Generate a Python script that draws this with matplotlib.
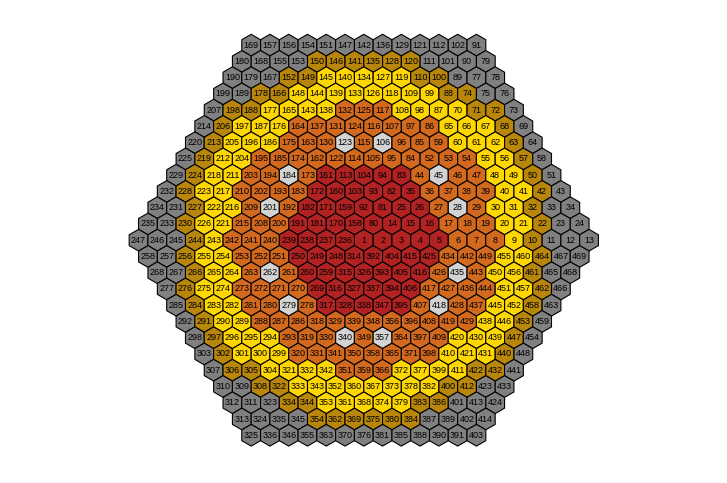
import matplotlib
matplotlib.use('Agg')
import matplotlib.pyplot as plt
from matplotlib.patches import RegularPolygon
import numpy as np

# cell numbers, row by row from the top of the hexagon
ROW_IDS = [
    [169, 157, 156, 154, 151, 147, 142, 136, 129, 121, 112, 102, 91],
    [180, 168, 155, 153, 150, 146, 141, 135, 128, 120, 111, 101, 90, 79],
    [190, 179, 167, 152, 149, 145, 140, 134, 127, 119, 110, 100, 89, 77, 78],
    [199, 189, 178, 166, 148, 144, 139, 133, 126, 118, 109, 99, 88, 74, 75, 76],
    [207, 198, 188, 177, 165, 143, 138, 132, 125, 117, 108, 98, 87, 70, 71, 72, 73],
    [214, 206, 197, 187, 176, 164, 137, 131, 124, 116, 107, 97, 86, 65, 66, 67, 68, 69],
    [220, 213, 205, 196, 186, 175, 163, 130, 123, 115, 106, 96, 85, 59, 60, 61, 62, 63, 64],
    [225, 219, 212, 204, 195, 185, 174, 162, 122, 114, 105, 95, 84, 52, 53, 54, 55, 56, 57, 58],
    [229, 224, 218, 211, 203, 194, 184, 173, 161, 113, 104, 94, 83, 44, 45, 46, 47, 48, 49, 50, 51],
    [232, 228, 223, 217, 210, 202, 193, 183, 172, 160, 103, 93, 82, 35, 36, 37, 38, 39, 40, 41, 42, 43],
    [234, 231, 227, 222, 216, 209, 201, 192, 182, 171, 159, 92, 81, 25, 26, 27, 28, 29, 30, 31, 32, 33, 34],
    [235, 233, 230, 226, 221, 215, 208, 200, 191, 181, 170, 158, 80, 14, 15, 16, 17, 18, 19, 20, 21, 22, 23, 24],
    [247, 246, 245, 244, 243, 242, 241, 240, 239, 238, 237, 236, 1, 2, 3, 4, 5, 6, 7, 8, 9, 10, 11, 12, 13],
    [258, 257, 256, 255, 254, 253, 252, 251, 250, 249, 248, 314, 392, 404, 415, 425, 434, 442, 449, 455, 460, 464, 467, 469],
    [268, 267, 266, 265, 264, 263, 262, 261, 260, 259, 315, 326, 393, 405, 416, 426, 435, 443, 450, 456, 461, 465, 468],
    [277, 276, 275, 274, 273, 272, 271, 270, 269, 316, 327, 337, 394, 406, 417, 427, 436, 444, 451, 457, 462, 466],
    [285, 284, 283, 282, 281, 280, 279, 278, 317, 328, 338, 347, 395, 407, 418, 428, 437, 445, 452, 458, 463],
    [292, 291, 290, 289, 288, 287, 286, 318, 329, 339, 348, 356, 396, 408, 419, 429, 438, 446, 453, 459],
    [298, 297, 296, 295, 294, 293, 319, 330, 340, 349, 357, 364, 397, 409, 420, 430, 439, 447, 454],
    [303, 302, 301, 300, 299, 320, 331, 341, 350, 358, 365, 371, 398, 410, 421, 431, 440, 448],
    [307, 306, 305, 304, 321, 332, 342, 351, 359, 366, 372, 377, 399, 411, 422, 432, 441],
    [310, 309, 308, 322, 333, 343, 352, 360, 367, 373, 378, 382, 400, 412, 423, 433],
    [312, 311, 323, 334, 344, 353, 361, 368, 374, 379, 383, 386, 401, 413, 424],
    [313, 324, 335, 345, 354, 362, 369, 375, 380, 384, 387, 389, 402, 414],
    [325, 336, 346, 355, 363, 370, 376, 381, 385, 388, 390, 391, 403],
]

# colour class of each cell, same order
ROW_CLASSES = [
    "GGGGGGGGGGGGG",
    "GGGGDDDDDDGGGG",
    "GGGDDYYYYYDDGGG",
    "GGDDYYYYYYYYDDGG",
    "GDDYYYYOOOYYYYDDG",
    "GDYYYOOOOOOOOYYYDG",
    "GDYYYOOOLOLOOOYYYDG",
    "GDYYOOOOOOOOOOOOYYDG",
    "GDYYOOLORRRRROLOOYYDG",
    "GDYYOOOORRRRRROOOOYYDG",
    "GGDYYOLORRRRRRROLOYYDGG",
    "GGDYYOOORRRRRRRROOOYYDGG",
    "GGGDYOOORRRRRRRRROOOYDGGG",
    "GGDYYOOORRRRRRRROOOYYDGG",
    "GGDYYOLORRRRRRROLOYYDGG",
    "GDYYOOOORRRRRROOOOYYDG",
    "GDYYOOLORRRRROLOOYYDG",
    "GDYYOOOOOOOOOOOOYYDG",
    "GDYYYOOOLOLOOOYYYDG",
    "GDYYYOOOOOOOOYYYDG",
    "GDDYYYYOOOYYYYDDG",
    "GGDDYYYYYYYYDDGG",
    "GGGDDYYYYYDDGGG",
    "GGGGDDDDDDGGGG",
    "GGGGGGGGGGGGG",
]

COLORS = {
    'G': '#808080',   # gray
    'D': '#B8860B',   # darkgoldenrod
    'Y': '#FFD700',   # gold
    'O': '#D2691E',   # chocolate
    'R': '#B22222',   # firebrick
    'L': '#D3D3D3',   # lightgray
}

fig = plt.figure(figsize=(7.27, 4.83), dpi=100)
ax = fig.add_axes([0, 0, 1, 1])

nrows = len(ROW_IDS)
mid = nrows // 2
dy = np.sqrt(3) / 2
for r, (ids, cls) in enumerate(zip(ROW_IDS, ROW_CLASSES)):
    n = len(ids)
    y = (mid - r) * dy
    for i, (num, c) in enumerate(zip(ids, cls)):
        x = i - (n - 1) / 2
        ax.add_patch(RegularPolygon((x, y), numVertices=6, radius=1 / np.sqrt(3),
                                    orientation=0, facecolor=COLORS[c],
                                    edgecolor='black', linewidth=0.8))
        ax.text(x, y, str(num), ha='center', va='center', fontsize=6.5,
                family='Liberation Sans', color='black')

# 18.77 px per unit, grid centred near (364, 240)
scale = 18.77
ax.set_xlim(-363.8 / scale, (727 - 363.8) / scale)
ax.set_ylim(-(483 - 240.2) / scale, 240.2 / scale)
ax.set_aspect('equal')
ax.axis('off')

plt.savefig('out.png', dpi=100)
plt.close()
